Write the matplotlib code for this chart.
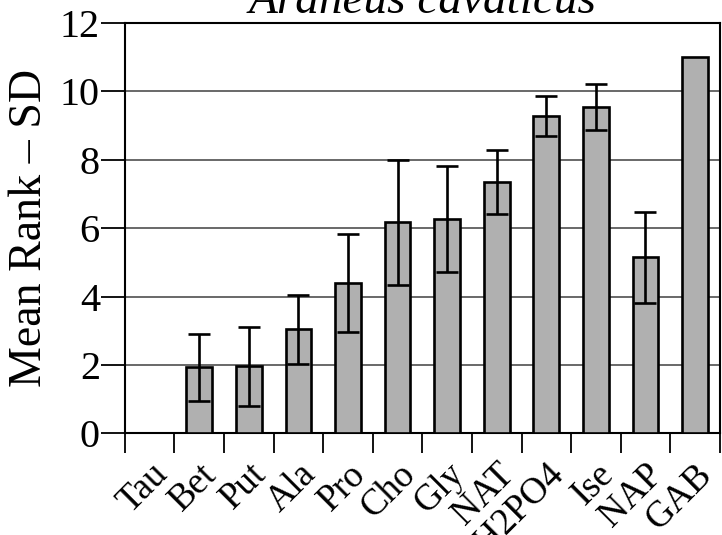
import numpy as np
import matplotlib
matplotlib.use("Agg")
import matplotlib.pyplot as plt
from matplotlib.ticker import FixedLocator

plt.rcParams['font.family'] = ['Liberation Serif', 'DejaVu Serif']

### Mean rank and SD per compound
compounds = ['Tau', 'Bet', 'Put', 'Ala', 'Pro', 'Cho', 'Gly', 'NAT',
             'H2PO4', 'Ise', 'NAP', 'GAB']
mean_rank = [0.0, 1.93, 1.96, 3.04, 4.39, 6.17, 6.27, 7.34, 9.29, 9.54, 5.15, 11.0]
sd_rank = [0.0, 0.98, 1.15, 1.02, 1.43, 1.82, 1.54, 0.94, 0.58, 0.68, 1.33, 0.0]

fig = plt.figure(figsize=(7.22, 5.35), dpi=100)
ax = fig.add_axes([0.173, 0.19, 0.824, 0.767])

x = np.arange(len(compounds))
ax.bar(x, mean_rank, width=0.52, color='#b0b0b0', edgecolor='black',
       linewidth=1.9, zorder=3)
# SD drawn both ways from the bar top, skip the ones with no spread
err_idx = [i for i in x if sd_rank[i] > 0]
ax.errorbar(x[err_idx], np.array(mean_rank)[err_idx],
            yerr=np.array(sd_rank)[err_idx], fmt='none', ecolor='black',
            elinewidth=1.9, capsize=8, capthick=1.9, zorder=4)

ax.set_xlim(-0.5, len(compounds) - 0.5)
ax.set_ylim(0, 12)
ax.set_yticks(range(0, 13, 2))
ax.yaxis.grid(True, color='#404040', linewidth=1.1, zorder=0)

# long ticks on category boundaries, labels centred under the bars
ax.xaxis.set_major_locator(FixedLocator(np.arange(-0.5, len(compounds), 1.0)))
ax.xaxis.set_major_formatter(plt.NullFormatter())
ax.xaxis.set_minor_locator(FixedLocator(x))
ax.set_xticklabels(compounds, minor=True, rotation=45, ha='right',
                   va='top', rotation_mode='anchor', fontsize=26.5)
ax.tick_params(axis='x', which='major', direction='out', length=14.5, width=1.3)
ax.tick_params(axis='x', which='minor', length=0, pad=17)
ax.tick_params(axis='y', direction='out', length=17, width=1.3,
               labelsize=29, pad=1)

for s in ax.spines.values():
    s.set_linewidth(1.5)

ax.set_ylabel('Mean Rank \u2013 SD', fontsize=33, labelpad=6)
ax.set_title('Araneus cavaticus', fontsize=34, style='italic', pad=5)

fig.savefig('out.png', dpi=100)
